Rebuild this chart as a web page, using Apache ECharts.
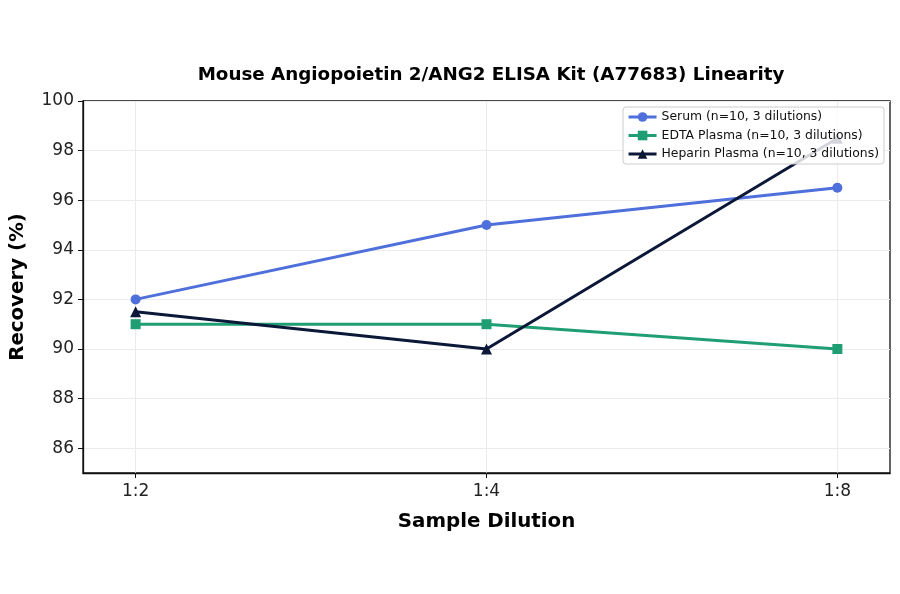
<!DOCTYPE html>
<html>
<head>
<meta charset="utf-8">
<script src="https://cdn.jsdelivr.net/npm/echarts@6/dist/echarts.min.js"></script>
<style>
  html, body { margin: 0; padding: 0; background: #fff; }
  #main { width: 900px; height: 594px; }
</style>
</head>
<body>
<div id="main"></div>
<script>
// dilution labels and recovery values (%)
var dilutions = ['1:2', '1:4', '1:8'];
var serum = [92, 95, 96.5];
var edta = [91, 91, 90];
var heparin = [91.5, 90, 98.5];
var yTicks = [86, 88, 90, 92, 94, 96, 98, 100];

function pairs(arr) {
    return arr.map(function (v, i) { return [i, v]; });
}

var chart = echarts.init(document.getElementById('main'));
var font = 'DejaVu Sans';

var option = {
    animation: false,
    title: {
        text: 'Mouse Angiopoietin 2/ANG2 ELISA Kit (A77683) Linearity',
        left: 486,
        textAlign: 'center',
        top: 61,
        textStyle: { fontFamily: font, fontSize: 18.3, fontWeight: 'bold', color: '#000' }
    },
    grid: {
        left: 82, right: 10, top: 101, bottom: 121,
        show: true, borderColor: '#111', borderWidth: 1.3, backgroundColor: 'transparent'
    },
    legend: {
        zlevel: 1, z: 20,
        right: 16, top: 107,
        orient: 'vertical',
        itemGap: 6.5,
        itemWidth: 28, itemHeight: 12,
        padding: [4, 5, 4, 4],
        backgroundColor: 'rgba(255,255,255,0.82)',
        borderColor: '#cccccc', borderWidth: 1, borderRadius: 3,
        lineStyle: { width: 3 },
        textStyle: { fontFamily: font, fontSize: 12.4, color: '#111' },
        data: ['Serum (n=10, 3 dilutions)', 'EDTA Plasma (n=10, 3 dilutions)', 'Heparin Plasma (n=10, 3 dilutions)']
    },
    xAxis: {
        type: 'value',
        min: -0.15, max: 2.15,
        interval: 1,
        name: 'Sample Dilution',
        nameLocation: 'middle',
        nameGap: 39,
        nameTextStyle: { fontFamily: font, fontSize: 19.8, fontWeight: 'bold', color: '#000' },
        axisLine: { show: true, onZero: false, lineStyle: { color: '#111', width: 1.3 } },
        axisTick: { show: true, length: 5, lineStyle: { color: '#111' }, customValues: [0, 1, 2] },
        axisLabel: {
            fontFamily: font, fontSize: 17, color: '#222', margin: 10,
            customValues: [0, 1, 2],
            formatter: function (v) { return dilutions[Math.round(v)]; }
        },
        splitLine: { show: true, lineStyle: { color: '#ebebeb', width: 1 } }
    },
    yAxis: {
        type: 'value',
        min: 85, max: 100,
        name: 'Recovery (%)',
        nameLocation: 'middle',
        nameGap: 55,
        nameTextStyle: { fontFamily: font, fontSize: 19.8, fontWeight: 'bold', color: '#000' },
        axisLine: { show: true, onZero: false, lineStyle: { color: '#111', width: 1.3 } },
        axisTick: { show: true, length: 5, lineStyle: { color: '#111' }, customValues: yTicks },
        axisLabel: { fontFamily: font, fontSize: 17, color: '#222', margin: 9, customValues: yTicks },
        splitLine: { show: true, lineStyle: { color: '#ebebeb', width: 1 } }
    },
    series: [{
        name: 'Serum (n=10, 3 dilutions)',
        type: 'line',
        data: pairs(serum),
        symbol: 'circle', symbolSize: 10,
        lineStyle: { width: 3, color: '#4f6fdb' },
        itemStyle: { color: '#4f6fdb' }
    }, {
        name: 'EDTA Plasma (n=10, 3 dilutions)',
        type: 'line',
        data: pairs(edta),
        symbol: 'rect', symbolSize: 10,
        lineStyle: { width: 3, color: '#1f9e74' },
        itemStyle: { color: '#1f9e74' }
    }, {
        name: 'Heparin Plasma (n=10, 3 dilutions)',
        type: 'line',
        data: pairs(heparin),
        symbol: 'triangle', symbolSize: 11,
        lineStyle: { width: 3, color: '#0c1838' },
        itemStyle: { color: '#0c1838' }
    }]
};

chart.setOption(option);
</script>
</body>
</html>
